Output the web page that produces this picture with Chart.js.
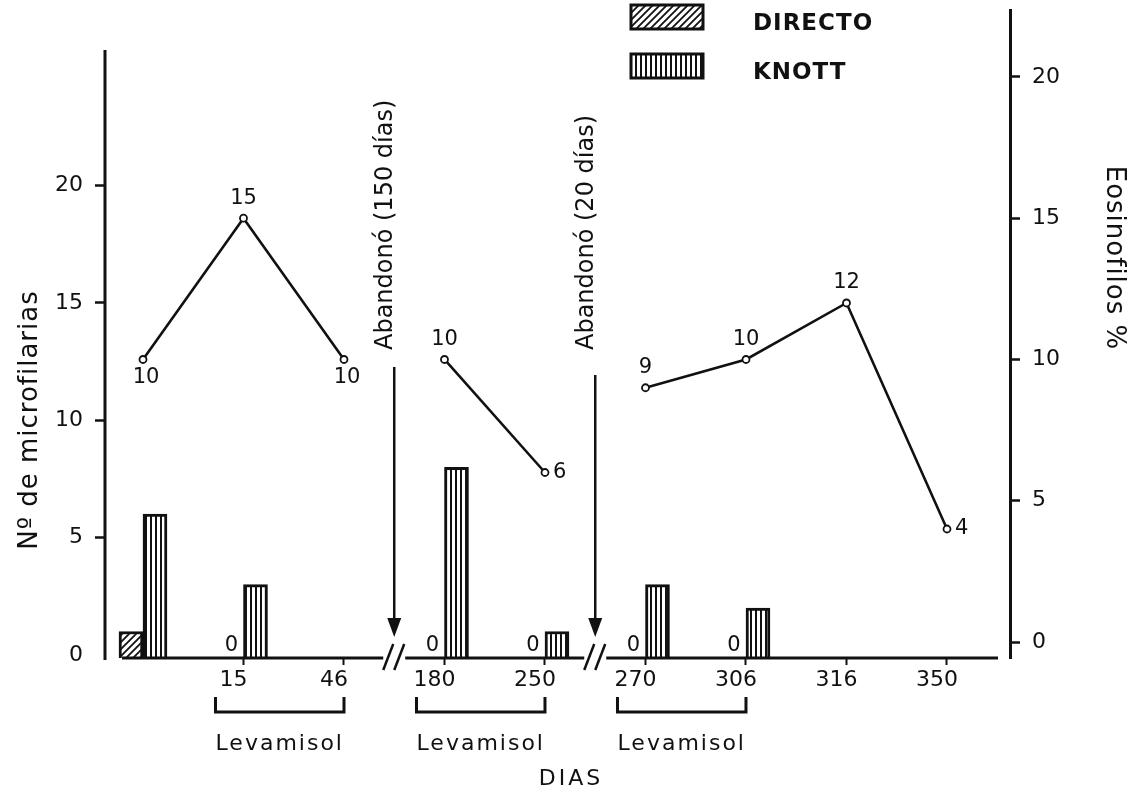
<!DOCTYPE html>
<html>
<head>
<meta charset="utf-8">
<script src="https://cdn.jsdelivr.net/npm/chart.js@4.4.0/dist/chart.umd.min.js"></script>
<style>
  html, body { margin: 0; padding: 0; background: #fff; }
  canvas { display: block; }
</style>
</head>
<body>
<canvas id="myChart" width="1138" height="793"></canvas>
<script>
// días de muestreo
const dias = [0, 15, 46, 180, 250, 270, 306, 316, 350];
const diaLabels = ['', '15', '46', '180', '250', '270', '306', '316', '350'];
// el eje se corta entre periodos
const periodos = [1, 1, 1, 2, 2, 3, 3, 3, 3];
// Nº de microfilarias
const directo = [1, 0, null, 0, 0, 0, 0, null, null];
const knott = [6, 3, null, 8, 1, 3, 2, null, null];
// Eosinofilos %
const eosinofilos = [10, 15, 10, 10, 6, 9, 10, 12, 4];
const microTicks = [0, 5, 10, 15, 20];
const eosTicks = [0, 5, 10, 15, 20];
// tratamientos y abandonos
const levamisol = [[15, 46], [180, 250], [270, 306]];
const abandonos = ['Abandonó (150 días)', 'Abandonó (20 días)'];

const ink = '#111';
const fuente = 'DejaVu Sans';

function hatchPattern() {
    const c = document.createElement('canvas');
    c.width = 7; c.height = 7;
    const g = c.getContext('2d');
    g.fillStyle = '#fff'; g.fillRect(0, 0, 7, 7);
    g.strokeStyle = ink; g.lineWidth = 1.8;
    g.beginPath();
    g.moveTo(-1, 8); g.lineTo(8, -1);
    g.moveTo(-1, 1); g.lineTo(1, -1);
    g.moveTo(6, 8); g.lineTo(8, 6);
    g.stroke();
    return g.createPattern(c, 'repeat');
}

function stripePattern() {
    const c = document.createElement('canvas');
    c.width = 5; c.height = 5;
    const g = c.getContext('2d');
    g.fillStyle = '#fff'; g.fillRect(0, 0, 5, 5);
    g.fillStyle = ink; g.fillRect(0, 0, 2, 5);
    return g.createPattern(c, 'repeat');
}

const hatch = hatchPattern();
const stripes = stripePattern();

// colocación de las etiquetas de la curva
const colocar = ['below', 'above', 'below', 'above', 'right', 'above', 'above', 'above', 'right'];

const dibujo = {
    id: 'dibujo',
    afterDraw(chart) {
        const { ctx, chartArea: a, scales } = chart;
        const x = scales.x;
        ctx.save();
        ctx.strokeStyle = ink;
        ctx.fillStyle = ink;

        // eje izquierdo y linea base
        ctx.lineWidth = 3;
        ctx.beginPath();
        ctx.moveTo(a.left, a.top + 40);
        ctx.lineTo(a.left, a.bottom + 2);
        ctx.stroke();
        ctx.beginPath();
        ctx.moveTo(a.left + 17, a.bottom);
        ctx.lineTo(a.right - 12, a.bottom);
        ctx.stroke();

        // cortes del eje con flecha y texto
        const cortes = [];
        for (let i = 1; i < periodos.length; i++) {
            if (periodos[i] !== periodos[i - 1]) cortes.push(x.getPixelForValue(i - 0.5));
        }
        cortes.forEach((cx, k) => {
            ctx.fillStyle = '#fff';
            ctx.fillRect(cx - 11, a.bottom - 3, 22, 6);
            ctx.fillStyle = ink;
            ctx.lineWidth = 2.5;
            [-6, 5].forEach(d => {
                ctx.beginPath();
                ctx.moveTo(cx + d - 5, a.bottom + 12);
                ctx.lineTo(cx + d + 5, a.bottom - 14);
                ctx.stroke();
            });
            const tip = a.bottom - 21;
            ctx.lineWidth = 2.5;
            ctx.beginPath();
            ctx.moveTo(cx, a.top + 357 + k * 8);
            ctx.lineTo(cx, tip - 10);
            ctx.stroke();
            ctx.beginPath();
            ctx.moveTo(cx, tip);
            ctx.lineTo(cx - 7, tip - 19);
            ctx.lineTo(cx + 7, tip - 19);
            ctx.closePath();
            ctx.fill();

            ctx.save();
            ctx.translate(cx - 8, a.top + 340);
            ctx.rotate(-Math.PI / 2);
            ctx.font = '24px ' + fuente;
            ctx.textAlign = 'left';
            ctx.textBaseline = 'middle';
            ctx.fillText(abandonos[k], 0, 0);
            ctx.restore();
        });

        // ceros del examen directo
        ctx.font = '21px ' + fuente;
        ctx.textAlign = 'center';
        ctx.textBaseline = 'alphabetic';
        const metaD = chart.getDatasetMeta(0);
        directo.forEach((v, i) => {
            if (v === 0) ctx.fillText('0', metaD.data[i].x, a.bottom - 7);
        });

        // etiquetas de eosinofilos
        const metaE = chart.getDatasetMeta(2);
        ctx.textBaseline = 'middle';
        metaE.data.forEach((p, i) => {
            let dx = 0, dy = 0;
            ctx.textAlign = 'center';
            if (colocar[i] === 'above') dy = -20;
            if (colocar[i] === 'below') { dy = 18; dx = 3; }
            if (colocar[i] === 'right') { dx = 8; ctx.textAlign = 'left'; }
            ctx.fillText(String(eosinofilos[i]), p.x + dx, p.y + dy);
        });

        // Levamisol
        ctx.letterSpacing = '2px';
        ctx.font = '22px ' + fuente;
        ctx.textAlign = 'center';
        levamisol.forEach(([d0, d1]) => {
            const x0 = x.getPixelForValue(dias.indexOf(d0)) - 28;
            const x1 = x.getPixelForValue(dias.indexOf(d1));
            const yb = a.bottom + 54;
            ctx.lineWidth = 3;
            ctx.beginPath();
            ctx.moveTo(x0, yb - 15);
            ctx.lineTo(x0, yb);
            ctx.lineTo(x1, yb);
            ctx.lineTo(x1, yb - 15);
            ctx.stroke();
            ctx.fillText('Levamisol', (x0 + x1) / 2, a.bottom + 86);
        });

        // DIAS
        ctx.letterSpacing = '3px';
        ctx.fillText('DIAS', 571, 779);

        // leyenda
        const cajas = [
            { label: 'DIRECTO', fill: hatch, y: 5 },
            { label: 'KNOTT', fill: stripes, y: 54 }
        ];
        ctx.letterSpacing = '1px';
        ctx.font = 'bold 23px ' + fuente;
        ctx.textAlign = 'left';
        cajas.forEach(c => {
            ctx.fillStyle = c.fill;
            ctx.fillRect(631, c.y, 72, 24);
            ctx.lineWidth = 3;
            ctx.strokeRect(631, c.y, 72, 24);
            ctx.fillStyle = ink;
            ctx.fillText(c.label, 753, c.y + 19);
        });

        // titulos de ejes
        ctx.letterSpacing = '1px';
        ctx.font = '26px ' + fuente;
        ctx.textAlign = 'center';
        ctx.save();
        ctx.translate(30, 420);
        ctx.rotate(-Math.PI / 2);
        ctx.fillText('Nº de microfilarias', 0, 0);
        ctx.restore();
        ctx.save();
        ctx.translate(1114, 258);
        ctx.rotate(Math.PI / 2);
        ctx.fillText('Eosinofilos %', 0, 0);
        ctx.restore();

        ctx.restore();
    }
};

const tickFont = { family: fuente, size: 22 };

const ctx = document.getElementById('myChart').getContext('2d');
const myChart = new Chart(ctx, {
    type: 'bar',
    data: {
        datasets: [
            {
                type: 'bar',
                label: 'DIRECTO',
                data: directo.map((v, i) => ({ x: i, y: v })),
                yAxisID: 'y',
                base: -0.128,
                barThickness: 24,
                backgroundColor: c => (c.raw && c.raw.y === 0) ? 'rgba(0,0,0,0)' : hatch,
                borderColor: c => (c.raw && c.raw.y === 0) ? 'rgba(0,0,0,0)' : ink,
                borderWidth: 3,
                order: 2
            },
            {
                type: 'bar',
                label: 'KNOTT',
                data: knott.map((v, i) => ({ x: i, y: v })),
                yAxisID: 'y',
                base: -0.128,
                barThickness: 24,
                backgroundColor: stripes,
                borderColor: ink,
                borderWidth: 3,
                order: 2
            },
            {
                type: 'line',
                label: 'Eosinofilos %',
                data: eosinofilos.map((v, i) => ({ x: i, y: v })),
                yAxisID: 'y2',
                borderColor: ink,
                borderWidth: 2.6,
                tension: 0,
                pointRadius: 3.5,
                pointBackgroundColor: '#fff',
                pointBorderColor: ink,
                pointBorderWidth: 1.8,
                segment: {
                    borderColor: c => periodos[c.p0DataIndex] !== periodos[c.p1DataIndex] ? 'rgba(0,0,0,0)' : ink
                },
                order: 1
            }
        ]
    },
    options: {
        responsive: false,
        animation: false,
        layout: { padding: { top: 10, left: 0, right: 0, bottom: 0 } },
        plugins: {
            legend: { display: false },
            tooltip: { enabled: false }
        },
        scales: {
            x: {
                type: 'linear',
                offset: false,
                min: -0.378,
                max: 8.627,
                afterBuildTicks: s => { s.ticks = dias.map((d, i) => ({ value: i })); },
                afterFit: s => { s.height = 135; s.paddingLeft = 0; s.paddingRight = 0; },
                ticks: {
                    callback: v => diaLabels[v] || '',
                    autoSkip: false,
                    maxRotation: 0,
                    labelOffset: -10,
                    padding: 2,
                    color: ink,
                    font: tickFont
                },
                grid: {
                    offset: false,
                    drawOnChartArea: false,
                    drawTicks: true,
                    tickLength: 7,
                    tickWidth: 2,
                    tickColor: c => c.index === 0 ? 'rgba(0,0,0,0)' : ink
                },
                border: { display: false }
            },
            y: {
                position: 'left',
                min: -0.128,
                max: 27.48,
                afterBuildTicks: s => { s.ticks = microTicks.map(v => ({ value: v })); },
                afterFit: s => { s.width = 105; s.paddingTop = 0; s.paddingBottom = 0; },
                ticks: { padding: 12, color: ink, font: tickFont },
                grid: {
                    drawOnChartArea: false,
                    tickLength: 10,
                    tickWidth: 2.5,
                    tickColor: c => (c.tick && c.tick.value === 0) ? 'rgba(0,0,0,0)' : ink
                },
                border: { display: false }
            },
            y2: {
                position: 'right',
                min: -0.566,
                max: 22.37,
                afterBuildTicks: s => { s.ticks = eosTicks.map(v => ({ value: v })); },
                afterFit: s => { s.width = 128; s.paddingTop = 0; s.paddingBottom = 0; },
                ticks: { padding: 12, color: ink, font: tickFont },
                grid: {
                    drawOnChartArea: false,
                    tickLength: 10,
                    tickWidth: 2.5,
                    tickColor: ink
                },
                border: { display: true, color: ink, width: 3 }
            }
        }
    },
    plugins: [dibujo]
});
</script>
</body>
</html>
